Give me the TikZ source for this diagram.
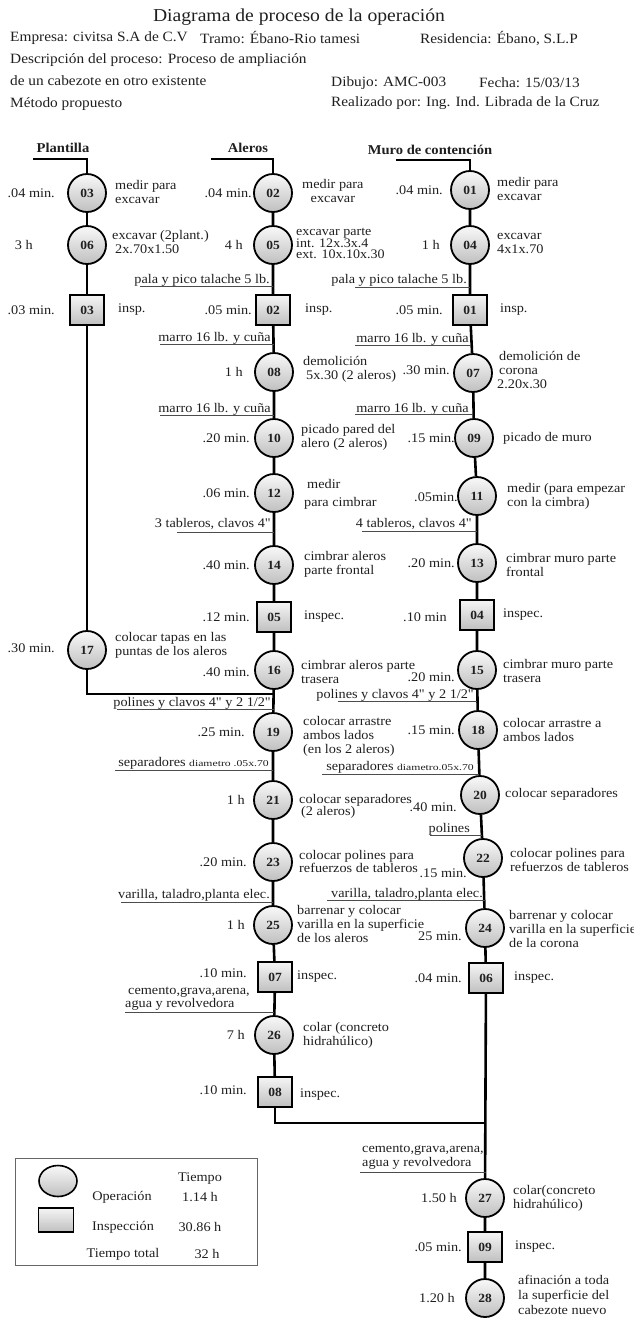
\documentclass[tikz,border=0pt]{standalone}
\usepackage{fontspec}
\setmainfont{Liberation Serif}[FakeStretch=1.08, Ligatures=TeXOff]
\newfontfamily\narrowsmall{Liberation Serif}[FakeStretch=1.3, Ligatures=TeXOff]
\usetikzlibrary{backgrounds,shapes.geometric}
\newcommand{\txtf}{\fontsize{13.2}{14}\selectfont}
\newcommand{\numf}{\bfseries\fontsize{12.5}{14}\selectfont}
\newcommand{\smallf}{\narrowsmall\fontsize{9}{10}\selectfont}
\tikzset{
  opn/.style={circle, draw=black, line width=1.8pt, minimum size=38pt, inner sep=0pt,
    top color=gray!5, bottom color=gray!50, font=\numf},
  ins/.style={rectangle, draw=black, line width=1.6pt, minimum width=34pt, minimum height=30pt,
    inner sep=0pt, top color=gray!8, bottom color=gray!50, font=\numf},
  dsc/.style={anchor=west, align=left, inner sep=0pt, font=\txtf},
  dscc/.style={anchor=west, align=center, inner sep=0pt, font=\txtf},
  tim/.style={anchor=east, inner sep=0pt, font=\txtf},
  tool/.style={anchor=east, align=left, inner sep=0pt, font=\txtf},
  info/.style={anchor=west, inner sep=0pt, font=\fontsize{14.2}{16}\selectfont},
  hdr/.style={inner sep=0pt, font=\bfseries\fontsize{13.5}{16}\selectfont},
  leg/.style={inner sep=0pt, font=\txtf},
  flow/.style={line width=2.6pt, draw=black},
  ul/.style={line width=0.8pt, draw=black!70},
}
\begin{document}
\begin{tikzpicture}[x=1pt,y=-1pt, every node/.append style={text=black!88}]
\useasboundingbox (0,0) rectangle (634,1318);

% ---------- heading ----------
\node[inner sep=0pt, font=\fontsize{18.2}{20}\selectfont] (title) at (299,17) {Diagrama de proceso de la operación};
\node[info] (emp) at (10,38) {Empresa: civitsa S.A de C.V};
\node[info] (tramo) at (200,38) {Tramo: Ébano-Rio tamesi};
\node[info] (resid) at (420,38) {Residencia: Ébano, S.L.P};
\node[info] (desc) at (10,60) {Descripción del proceso: Proceso de ampliación};
\node[info] (desc2) at (10,81) {de un cabezote en otro existente};
\node[info] (dib) at (331,83) {Dibujo: AMC-003};
\node[info] (fecha) at (479,83) {Fecha: 15/03/13};
\node[info] (met) at (10,104) {Método propuesto};
\node[info] (real) at (331,103) {Realizado por: Ing. Ind. Librada de la Cruz};

\node[hdr] (hPl) at (63,148) {Plantilla};
\node[hdr] (hAl) at (248,148) {Aleros};
\node[hdr] (hMu) at (430,150) {Muro de contención};

% ---------- Plantilla ----------
\node[opn] (p03) at (87,193) {03};
\node[opn] (p06) at (87,245) {06};
\node[ins] (pi03) at (87,310) {03};
\node[opn] (p17) at (87,650) {17};

\node[tim] (tp03) at (55,193) {.04 min.};
\node[dsc] (dp03) at (115,192) {medir para\\excavar};
\node[tim] (tp06) at (33,245) {3 h};
\node[dsc] (dp06) at (112,242.5) {excavar (2plant.)\\\hspace*{3pt}2x.70x1.50};
\node[tim] (tpi03) at (55,310) {.03 min.};
\node[dsc] (dpi03) at (118,310) {insp.};
\node[tim] (tp17) at (55,648) {.30 min.};
\node[dsc] (dp17) at (115,645.5) {colocar tapas en las\\puntas de los aleros};

% ---------- Aleros ----------
\node[opn] (a02) at (273,193) {02};
\node[opn] (a05) at (273,245) {05};
\node[ins] (ai02) at (273,310) {02};
\node[opn] (a08) at (274,372) {08};
\node[opn] (a10) at (274,438) {10};
\node[opn] (a12) at (274,493) {12};
\node[opn] (a14) at (274,565) {14};
\node[ins] (ai05) at (274,617) {05};
\node[opn] (a16) at (274,670) {16};
\node[opn] (a19) at (273,732) {19};
\node[opn] (a21) at (273,800) {21};
\node[opn] (a23) at (273,862) {23};
\node[opn] (a25) at (273,925) {25};
\node[ins] (ai07) at (275,977) {07};
\node[opn] (a26) at (274,1035) {26};
\node[ins] (ai08) at (275,1092) {08};

\node[tim] (ta02) at (252,193) {.04 min.};
\node[dscc] (da02) at (302,190.5) {medir para\\excavar};
\node[tim] (ta05) at (243,245) {4 h};
\node[dsc, font=\fontsize{13}{10.5}\selectfont] (da05) at (296,243) {excavar parte\\int. 12x.3x.4\\ext. 10x.10x.30};
\node[tool] (ka1) at (270,280) {pala y pico talache 5 lb.};
\node[tim] (tai02) at (252,310) {.05 min.};
\node[dsc] (dai02) at (305,310) {insp.};
\node[tool] (ka2) at (271,338) {marro 16 lb. y cuña};
\node[tim] (ta08) at (243,372) {1 h};
\node[dsc] (da08) at (303,369.5) {demolición\\\hspace*{3pt}5x.30 (2 aleros)};
\node[tool] (ka3) at (271,409) {marro 16 lb. y cuña};
\node[tim] (ta10) at (250,438) {.20 min.};
\node[dsc] (da10) at (301,437) {picado pared del\\alero (2 aleros)};
\node[tim] (ta12) at (250,493) {.06 min.};
\node[dsc] (da12) at (304,494) {\hspace*{3pt}medir\\[4pt]para cimbrar};
\node[tool] (ka4) at (271,524) {3 tableros, clavos 4"};
\node[tim] (ta14) at (250,565) {.40 min.};
\node[dsc] (da14) at (304,564.5) {cimbrar aleros\\parte frontal};
\node[tim] (tai05) at (250,617) {.12 min.};
\node[dsc] (dai05) at (304,617) {inspec.};
\node[tim] (ta16) at (250,672) {.40 min.};
\node[dsc] (da16) at (301,672) {cimbrar aleros parte\\trasera};
\node[tool] (ka5) at (271,703) {polines y clavos 4" y 2 1/2"};
\node[tim] (ta19) at (245,732) {.25 min.};
\node[dsc] (da19) at (303,736) {colocar arrastre\\ambos lados\\(en los 2 aleros)};
\node[tool] (ka6) at (269,763) {separadores {\smallf diametro .05x.70}};
\node[tim] (ta21) at (245,800) {1 h};
\node[dsc, font=\fontsize{13.2}{12}\selectfont] (da21) at (299,806) {colocar separadores\\\hspace*{2pt}(2 aleros)};
\node[tim] (ta23) at (247,862) {.20 min.};
\node[dsc, font=\fontsize{13.2}{13}\selectfont] (da23) at (299,861.5) {colocar polines para\\refuerzos de tableros};
\node[tool] (ka7) at (270,895) {varilla, taladro,planta elec.};
\node[tim] (ta25) at (245,925) {1 h};
\node[dsc] (da25) at (297,924) {barrenar y colocar\\varilla en la superficie\\de los aleros};
\node[tim] (tai07) at (247,973) {.10 min.};
\node[dsc] (dai07) at (297,977) {inspec.};
\node[dsc, font=\fontsize{13.2}{13}\selectfont] (ka8) at (125,998.5) {\hspace*{3pt}cemento,grava,arena,\\agua y revolvedora};
\node[tim] (ta26) at (245,1035) {7 h};
\node[dsc] (da26) at (303,1035) {colar (concreto\\hidrahúlico)};
\node[tim] (tai08) at (247,1090) {.10 min.};
\node[dsc] (dai08) at (300,1095) {inspec.};

% ---------- Muro de contencion ----------
\node[opn] (m01) at (470,190) {01};
\node[opn] (m04) at (470,245) {04};
\node[ins] (mi01) at (470,310) {01};
\node[opn] (m07) at (473,373) {07};
\node[opn] (m09) at (474,438) {09};
\node[opn] (m11) at (477,496) {11};
\node[opn] (m13) at (477,563) {13};
\node[ins] (mi04) at (477,615) {04};
\node[opn] (m15) at (477,670) {15};
\node[opn] (m18) at (478,730) {18};
\node[opn] (m20) at (480,795) {20};
\node[opn] (m22) at (483,858) {22};
\node[opn] (m24) at (485,928) {24};
\node[ins] (mi06) at (486,978) {06};
\node[opn] (m27) at (485,1198) {27};
\node[ins] (mi09) at (485,1247) {09};
\node[opn] (m28) at (485,1298) {28};

\node[tim] (tm01) at (443,190) {.04 min.};
\node[dsc] (dm01) at (497,188.5) {medir para\\excavar};
\node[tim] (tm04) at (440,245) {1 h};
\node[dsc] (dm04) at (497,243.5) {excavar\\4x1x.70};
\node[tool] (km1) at (467,280) {pala y pico talache 5 lb.};
\node[tim] (tmi01) at (443,310) {.05 min.};
\node[dsc] (dmi01) at (500,310) {insp.};
\node[tool] (km2) at (469,339) {marro 16 lb. y cuña};
\node[tim] (tm07) at (450,370) {.30 min.};
\node[dsc] (dm07) at (499,369.5) {demolición de\\corona\\\hspace*{-2pt}2.20x.30};
\node[tool] (km3) at (469,409) {marro 16 lb. y cuña};
\node[tim] (tm09) at (455,438) {.15 min.};
\node[dsc] (dm09) at (503,438) {picado de muro};
\node[tim] (tm11) at (458,497) {.05min.};
\node[dsc] (dm11) at (507,496.5) {medir (para empezar\\con la cimbra)};
\node[tool] (km4) at (472,524) {4 tableros, clavos 4"};
\node[tim] (tm13) at (455,563) {.20 min.};
\node[dsc] (dm13) at (506,565) {cimbrar muro parte\\frontal};
\node[tim] (tmi04) at (447,617) {.10 min};
\node[dsc] (dmi04) at (503,615) {inspec.};
\node[tim] (tm15) at (455,677) {.20 min.};
\node[dsc] (dm15) at (503,670.5) {cimbrar muro parte\\trasera};
\node[tool] (km5) at (474,695) {polines y clavos 4" y 2 1/2"};
\node[tim] (tm18) at (455,730) {.15 min.};
\node[dsc] (dm18) at (503,730) {colocar arrastre a\\ambos lados};
\node[tool] (km6) at (474,767) {separadores {\smallf diametro.05x.70}};
\node[tim] (tm20) at (457,807) {.40 min.};
\node[dsc] (dm20) at (505,794) {colocar separadores};
\node[tool] (km7) at (470,829) {polines};
\node[tim] (tm22) at (467,873) {.15 min.};
\node[dsc] (dm22) at (510,860) {colocar polines para\\refuerzos de tableros};
\node[tool] (km8) at (483,894) {varilla, taladro,planta elec.};
\node[tim] (tm24) at (462,936) {25 min.};
\node[dsc] (dm24) at (509,928.5) {barrenar y colocar\\varilla en la superficie\\de la corona};
\node[tim] (tmi06) at (462,978) {.04 min.};
\node[dsc] (dmi06) at (514,978) {inspec.};
\node[dsc, font=\fontsize{13.2}{14}\selectfont] (km9) at (362,1157.5) {cemento,grava,arena,\\agua y revolvedora};
\node[tim] (tm27) at (457,1198) {1.50 h};
\node[dsc, font=\fontsize{13.2}{13.5}\selectfont] (dm27) at (513,1198.5) {colar(concreto\\hidrahúlico)};
\node[tim] (tmi09) at (462,1247) {.05 min.};
\node[dsc] (dmi09) at (515,1247) {inspec.};
\node[tim] (tm28) at (455,1298) {1.20 h};
\node[dsc, font=\fontsize{13.2}{15}\selectfont] (dm28) at (518,1295) {afinación a toda\\la superficie del\\cabezote nuevo};

% ---------- legend ----------
\node[draw=black!60, line width=0.8pt, minimum width=242pt, minimum height=107pt, inner sep=0pt, anchor=north west] (legbox) at (15,1158) {};
\node[ellipse, draw=black, line width=1.6pt, minimum width=38pt, minimum height=31pt, inner sep=0pt, top color=gray!5, bottom color=gray!50] (legop) at (58,1181) {};
\node[rectangle, draw=black, line width=1.6pt, minimum width=35pt, minimum height=24pt, inner sep=0pt, top color=gray!8, bottom color=gray!50] (legin) at (56,1220) {};
\node[leg] (lT) at (200,1179) {Tiempo};
\node[leg] (lOp) at (122,1197) {Operación};
\node[leg] (lOpv) at (200,1197) {1.14 h};
\node[leg] (lIn) at (123,1227) {Inspección};
\node[leg] (lInv) at (200,1227) {30.86 h};
\node[leg] (lTt) at (123,1254) {Tiempo total};
\node[leg] (lTtv) at (207,1254) {32 h};

% ---------- connectors ----------
\coordinate (hlP) at (33,159);
\coordinate (hlA) at (211,159);
\coordinate (hlM) at (396,160);
\coordinate (jA) at (274,694);
\coordinate (jM) at (486,1123);
\begin{scope}[on background layer]
\draw[flow] (hlP) -| (p03);
\draw[flow] (hlA) -| (a02);
\draw[flow] (hlM) -| (m01);
\draw[flow] (p03) -- (p06) -- (pi03) -- (p17);
\draw[flow] (p17) |- (jA);
\draw[flow] (a02) -- (a05) -- (ai02) -- (a08) -- (a10) -- (a12) -- (a14) -- (ai05) -- (a16) -- (a19)
  -- (a21) -- (a23) -- (a25) -- (ai07) -- (a26) -- (ai08);
\draw[flow] (ai08) |- (jM);
\draw[flow] (m01) -- (m04) -- (mi01) -- (m07) -- (m09) -- (m11) -- (m13) -- (mi04) -- (m15) -- (m18)
  -- (m20) -- (m22) -- (m24) -- (mi06) -- (m27) -- (mi09) -- (m28);
\end{scope}

% ---------- underlines of material labels ----------
\draw[ul] (140,286) -- (273,286);
\draw[ul] (160,344) -- (274,344);
\draw[ul] (160,415) -- (274,415);
\draw[ul] (177,532) -- (274,532);
\draw[ul] (117,709) -- (274,709);
\draw[ul] (115,770) -- (273,770);
\draw[ul] (121,902) -- (273,902);
\draw[ul] (125,1012) -- (274,1012);
\draw[ul] (355,287) -- (470,287);
\draw[ul] (355,345) -- (471,345);
\draw[ul] (355,414) -- (473,414);
\draw[ul] (362,531) -- (477,531);
\draw[ul] (338,701) -- (477,701);
\draw[ul] (322,774) -- (479,774);
\draw[ul] (430,835) -- (482,835);
\draw[ul] (327,900) -- (485,900);
\draw[ul] (360,1172) -- (486,1172);
\end{tikzpicture}
\end{document}
